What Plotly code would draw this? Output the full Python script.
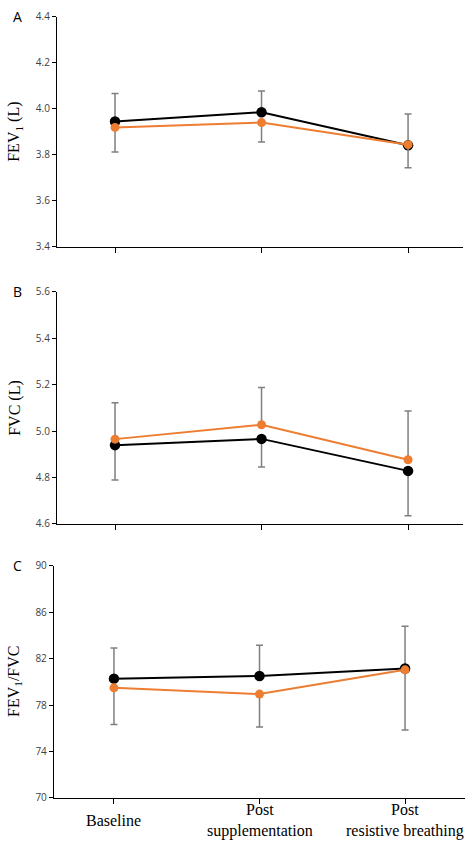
import plotly.graph_objects as go

categories = ["Baseline", "Post<br>supplementation", "Post<br>resistive breathing"]

# Panel A: FEV1 (L)
fev1_black = [3.945, 3.985, 3.841]
fev1_orange = [3.919, 3.940, 3.844]
fev1_black_err_plus = [0.122, 0.092, 0.136]
fev1_orange_err_minus = [0.107, 0.085, 0.101]

# Panel B: FVC (L)
fvc_black = [4.939, 4.966, 4.828]
fvc_orange = [4.965, 5.027, 4.876]
fvc_orange_err_plus = [0.157, 0.161, 0.210]
fvc_black_err_minus = [0.150, 0.121, 0.194]

# Panel C: FEV1/FVC
ratio_black = [80.28, 80.51, 81.15]
ratio_orange = [79.49, 78.95, 81.04]
ratio_black_err_plus = [2.65, 2.65, 3.65]
ratio_orange_err_minus = [3.17, 2.85, 5.19]

yticks_a = [3.4, 3.6, 3.8, 4.0, 4.2, 4.4]
yticks_b = [4.6, 4.8, 5.0, 5.2, 5.4, 5.6]
yticks_c = [70, 74, 78, 82, 86, 90]

BLACK = "#000000"
ORANGE = "#ED7D31"
ERR = "#7F7F7F"
W, H = 474, 851

xpos = list(range(len(categories)))


def err(plus=None, minus=None):
    zeros = [0] * len(xpos)
    return dict(type="data", symmetric=False,
                array=plus if plus is not None else zeros,
                arrayminus=minus if minus is not None else zeros,
                color=ERR, thickness=1.5, width=3.5)


def add_pair(fig, xa, ya, yb, yo, eb, eo):
    fig.add_trace(go.Scatter(x=xpos, y=yb, xaxis=xa, yaxis=ya, mode="lines+markers",
                             line=dict(color=BLACK, width=2),
                             marker=dict(color=BLACK, size=10.5),
                             error_y=eb, showlegend=False))
    fig.add_trace(go.Scatter(x=xpos, y=yo, xaxis=xa, yaxis=ya, mode="lines+markers",
                             line=dict(color=ORANGE, width=2),
                             marker=dict(color=ORANGE, size=9),
                             error_y=eo, showlegend=False))


fig = go.Figure()
add_pair(fig, "x", "y", fev1_black, fev1_orange,
         err(plus=fev1_black_err_plus), err(minus=fev1_orange_err_minus))
add_pair(fig, "x2", "y2", fvc_black, fvc_orange,
         err(minus=fvc_black_err_minus), err(plus=fvc_orange_err_plus))
add_pair(fig, "x3", "y3", ratio_black, ratio_orange,
         err(plus=ratio_black_err_plus), err(minus=ratio_orange_err_minus))


def px_x(p):
    return p / W


def px_y(p):
    return 1 - p / H


tickfont = dict(family="Open Sans, sans-serif", size=10, color="#404040")

xcommon = dict(showgrid=False, zeroline=False, showline=True, linecolor=BLACK, linewidth=1.3,
               ticks="outside", ticklen=5, tickcolor=BLACK, tickwidth=1.3,
               tickvals=xpos, showticklabels=False)
ycommon = dict(showgrid=False, zeroline=False, showline=True, linecolor=BLACK, linewidth=1.3,
               ticks="outside", ticklen=4, tickcolor=BLACK, tickwidth=1.3,
               tickfont=tickfont)

panels = [
    # (x-axis left px, right px, top px, bottom px, ticks, format, x range)
    (57, 463, 9, 243, yticks_a, ".1f", [-0.396, 2.375]),
    (57, 463, 289, 525, yticks_b, ".1f", [-0.396, 2.375]),
    (54, 465, 568, 804, yticks_c, "d", [-0.412, 2.412]),
]

layout = {}
for i, (l, r, t, b, yt, fmt, xr) in enumerate(panels):
    sfx = "" if i == 0 else str(i + 1)
    layout["xaxis" + sfx] = dict(xcommon, domain=[px_x(l), px_x(r)], range=xr,
                                 anchor="y" + sfx)
    layout["yaxis" + sfx] = dict(ycommon, domain=[px_y(b), px_y(t)], range=[yt[0], yt[-1]],
                                 tickvals=yt, tickformat=fmt, anchor="x" + sfx)

fig.update_layout(**layout)

annotations = []
serif = "Liberation Serif, Times New Roman, serif"
titles = ["FEV<sub>1</sub> (L)", "FVC (L)", "FEV<sub>1</sub>/FVC"]
letters = ["A", "B", "C"]
for (l, r, t, b, yt, fmt, xr), title, letter in zip(panels, titles, letters):
    annotations.append(dict(text=title, xref="paper", yref="paper",
                            x=px_x(15), y=px_y((t + b) / 2), xanchor="center", yanchor="middle",
                            textangle=-90, showarrow=False,
                            font=dict(family=serif, size=16, color="#000000")))
    annotations.append(dict(text=letter, xref="paper", yref="paper",
                            x=px_x(17), y=px_y(t), xanchor="center", yanchor="middle",
                            showarrow=False,
                            font=dict(family="Open Sans, sans-serif", size=14, color="#000000")))

for xi, cat in zip(xpos, categories):
    annotations.append(dict(text=cat, xref="x3", yref="paper", x=xi, y=px_y(827),
                            xanchor="center", yanchor="middle", showarrow=False,
                            font=dict(family=serif, size=16, color="#000000")))

fig.update_layout(width=W, height=H, margin=dict(l=0, r=0, t=0, b=0),
                  paper_bgcolor="white", plot_bgcolor="white",
                  annotations=annotations, showlegend=False)

fig.write_html("out.html", config={"displayModeBar": False},
               post_script="document.body.style.margin='0px';document.body.style.overflow='hidden';")
